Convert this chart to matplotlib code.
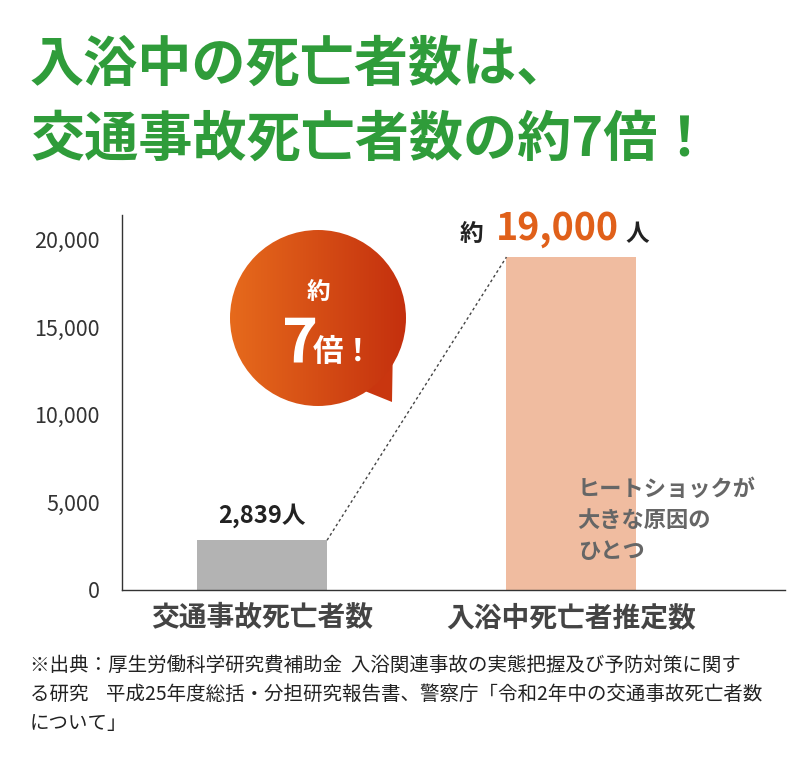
import matplotlib
matplotlib.use("Agg")
import matplotlib.pyplot as plt
import numpy as np
from matplotlib.patches import Circle, Polygon
from matplotlib.colors import LinearSegmentedColormap

plt.rcParams['font.family'] = ['Noto Sans CJK JP', 'DejaVu Sans']

categories = ["交通事故死亡者数", "入浴中死亡者推定数"]
values = [2839, 19000]
bar_colors = ["#b3b3b3", "#f0bca0"]
yticks = [0, 5000, 10000, 15000, 20000]
ytick_labels = ["0", "5,000", "10,000", "15,000", "20,000"]

fig = plt.figure(figsize=(8, 7.77), dpi=100)
ax = fig.add_axes([0.1525, 0.2407, 0.8285, 0.4826])
ax.bar([0, 1], values, width=0.42, color=bar_colors, zorder=2)
ax.set_xlim(-0.453, 1.69)
ax.set_ylim(0, 21400)
ax.set_yticks(yticks)
ax.set_yticklabels(ytick_labels, fontsize=15.5, color="#333333")
ax.set_xticks([0, 1])
ax.set_xticklabels(categories, fontsize=20, color="#444444", fontweight="bold")
ax.tick_params(axis="y", length=0, pad=16)
ax.tick_params(axis="x", length=0, pad=10)
for s in ["top", "right"]:
    ax.spines[s].set_visible(False)
for s in ["left", "bottom"]:
    ax.spines[s].set_color("#333333")
    ax.spines[s].set_linewidth(1)

ax.plot([0.21, 0.79], [values[0], values[1]], linestyle=(0, (2, 2)), color="#444444", lw=1)
ax.text(0, values[0] + 700, "2,839人", ha="center", va="bottom", fontsize=17, fontweight="bold", color="#222222")
ax.text(0.715, values[1] + 650, "約", ha="right", va="bottom", fontsize=17, fontweight="bold", color="#222222")
ax.text(0.955, values[1] + 500, "19,000", ha="center", va="bottom", fontsize=27, fontweight="bold", color="#e0601a")
ax.text(1.175, values[1] + 650, "人", ha="left", va="bottom", fontsize=17, fontweight="bold", color="#222222")
ax.text(1.02, 6400, "ヒートショックが\n大きな原因の\nひとつ", ha="left", va="top", fontsize=16,
        color="#666666", linespacing=1.45, fontweight="bold")

W, H = 800, 777
cx, cy, r = 318, 318, 88
grad_ax = fig.add_axes([0, 0, 1, 1], zorder=5)
grad_ax.set_xlim(0, W); grad_ax.set_ylim(H, 0); grad_ax.axis("off")
gx = np.linspace(0, 1, 200)
img = np.outer(np.ones(200), gx)
cmap = LinearSegmentedColormap.from_list("g", ["#e66a1c", "#c4300e"])
im = grad_ax.imshow(img, cmap=cmap, extent=[cx - r, cx + r, cy + r, cy - r], zorder=1)
c2 = Circle((cx, cy), r, transform=grad_ax.transData, facecolor="none", edgecolor="none")
grad_ax.add_patch(c2)
im.set_clip_path(c2)
grad_ax.add_patch(Polygon([(350, 385), (392, 402), (393, 340)], closed=True, facecolor="#c9360f", zorder=0))
grad_ax.text(cx, 292, "約", ha="center", va="center", fontsize=17, fontweight="bold", color="white", zorder=3)
grad_ax.text(300, 345, "7", ha="center", va="center", fontsize=44, fontweight="bold", color="white", zorder=3)
grad_ax.text(343, 352, "倍！", ha="center", va="center", fontsize=22, fontweight="bold", color="white", zorder=3)

green = "#2f9c3a"
fig.text(30 / W, 1 - 65 / H, "入浴中の死亡者数は、", fontsize=39, fontweight="bold", color=green, va="center")
fig.text(30 / W, 1 - 140 / H, "交通事故死亡者数の約7倍！", fontsize=39, fontweight="bold", color=green, va="center")

foot = ("※出典：厚生労働科学研究費補助金  入浴関連事故の実態把握及び予防対策に関す\n"
        "る研究    平成25年度総括・分担研究報告書、警察庁「令和2年中の交通事故死亡者数\n"
        "について」")
fig.text(30 / W, 1 - 655 / H, foot, fontsize=14, color="#222222", va="top", linespacing=1.5)

fig.savefig("out.png", dpi=100)
